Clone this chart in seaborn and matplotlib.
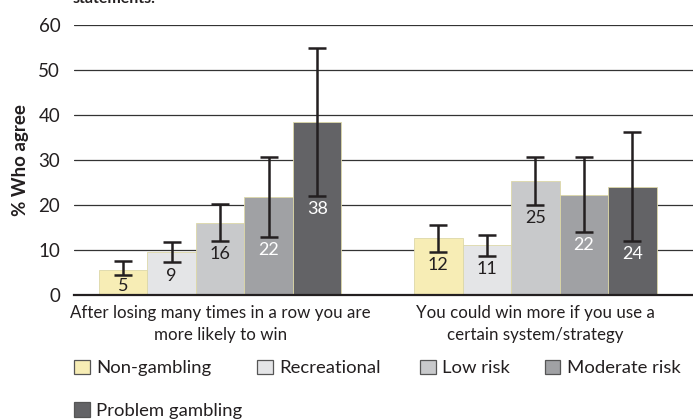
import numpy as np
import pandas as pd
import matplotlib
matplotlib.use("Agg")
import matplotlib.pyplot as plt
import seaborn as sns
from matplotlib.patches import Patch

# ==========================================
# Data
# ==========================================

statements = ["After losing many times in a row you are\nmore likely to win",
              "You could win more if you use a\ncertain system/strategy"]
groups = ["Non-gambling", "Recreational", "Low risk", "Moderate risk", "Problem gambling"]

# bar heights per group, one value per statement
values = {
    "Non-gambling": [5.6, 12.7],
    "Recreational": [9.6, 11.1],
    "Low risk": [16.0, 25.3],
    "Moderate risk": [21.8, 22.2],
    "Problem gambling": [38.4, 24.0],
}
labels = {
    "Non-gambling": ["5", "12"],
    "Recreational": ["9", "11"],
    "Low risk": ["16", "25"],
    "Moderate risk": ["22", "22"],
    "Problem gambling": ["38", "24"],
}
err_low = {
    "Non-gambling": [4.5, 9.6],
    "Recreational": [7.3, 8.7],
    "Low risk": [12.0, 20.0],
    "Moderate risk": [12.9, 14.0],
    "Problem gambling": [22.0, 12.0],
}
err_high = {
    "Non-gambling": [7.6, 15.6],
    "Recreational": [11.8, 13.3],
    "Low risk": [20.2, 30.6],
    "Moderate risk": [30.7, 30.6],
    "Problem gambling": [55.0, 36.2],
}

colors = ["#f7edb5", "#e4e5e7", "#c8c9cb", "#a0a1a4", "#636366"]
label_colors = ["#231f20", "#231f20", "#231f20", "white", "white"]

rows = []
for g in groups:
    for i, s in enumerate(statements):
        rows.append({"statement": s, "group": g, "pct": values[g][i]})
df = pd.DataFrame(rows)

# ==========================================
# Plot
# ==========================================

sns.set_style("white")
plt.rcParams["font.family"] = ["Lato", "DejaVu Sans"]
ink = "#231f20"

fig = plt.figure(figsize=(6.93, 4.19), dpi=100)
ax = fig.add_axes([0.107, 0.296, 0.893, 0.644])

sns.barplot(data=df, x="statement", y="pct", hue="group", order=statements,
            hue_order=groups, palette=colors, width=0.77, errorbar=None,
            saturation=1, edgecolor="#ddd8a8", linewidth=0.6, ax=ax)
ax.get_legend().remove()

for k, (g, cont) in enumerate(zip(groups, ax.containers)):
    xs = [p.get_x() + p.get_width() / 2 for p in cont.patches]
    ys = np.array(values[g])
    lo = ys - np.array(err_low[g])
    hi = np.array(err_high[g]) - ys
    ax.errorbar(xs, ys, yerr=[lo, hi], fmt="none", ecolor=ink,
                elinewidth=1.8, capsize=6.5, capthick=1.8, zorder=5)
    for x, l, t in zip(xs, err_low[g], labels[g]):
        ax.text(x, max(l - 1.2, 3.8), t, ha="center", va="top",
                fontsize=13, color=label_colors[k], zorder=6)

ax.set_ylim(0, 60)
ax.set_xlim(-0.463, 1.5)
ax.set_yticks(range(0, 61, 10))
ax.yaxis.grid(True, color="#333333", linewidth=0.9)
ax.set_axisbelow(True)
ax.tick_params(axis="y", length=0, pad=10, labelsize=13.5, labelcolor=ink)
ax.set_xticks([0, 1])
ax.set_xticklabels(statements, fontsize=12.2, color=ink, linespacing=1.45)
ax.set_xticks([-0.463, 0.5, 1.49], minor=True)
ax.tick_params(axis="x", which="major", length=0, pad=7)
ax.tick_params(axis="x", which="minor", length=5, width=1.5, color=ink, direction="out")
for s in ["top", "right", "left"]:
    ax.spines[s].set_visible(False)
ax.spines["bottom"].set_color(ink)
ax.spines["bottom"].set_linewidth(1.6)
ax.set_xlabel("")
ax.set_ylabel("% Who agree", fontsize=13.5, fontweight="bold", color=ink, labelpad=7)

fig.text(0.105, 0.993, "statements.", fontsize=11.5, fontweight="bold", color=ink, va="baseline")

# legend entries laid out like the original (4 on the first row, 1 below)
legend_spots = [(0.107, 0.122), (0.371, 0.122), (0.606, 0.122), (0.786, 0.122), (0.107, 0.021)]
for i, (g, spot) in enumerate(zip(groups, legend_spots)):
    h = Patch(facecolor=colors[i], edgecolor="#555555", linewidth=0.9)
    leg = fig.legend([h], [g], loc="center left", bbox_to_anchor=spot,
                     frameon=False, fontsize=13.3, handlelength=0.85, handleheight=0.85,
                     handletextpad=0.35, borderpad=0, borderaxespad=0, labelcolor=ink)

fig.savefig("out.png", dpi=100)
